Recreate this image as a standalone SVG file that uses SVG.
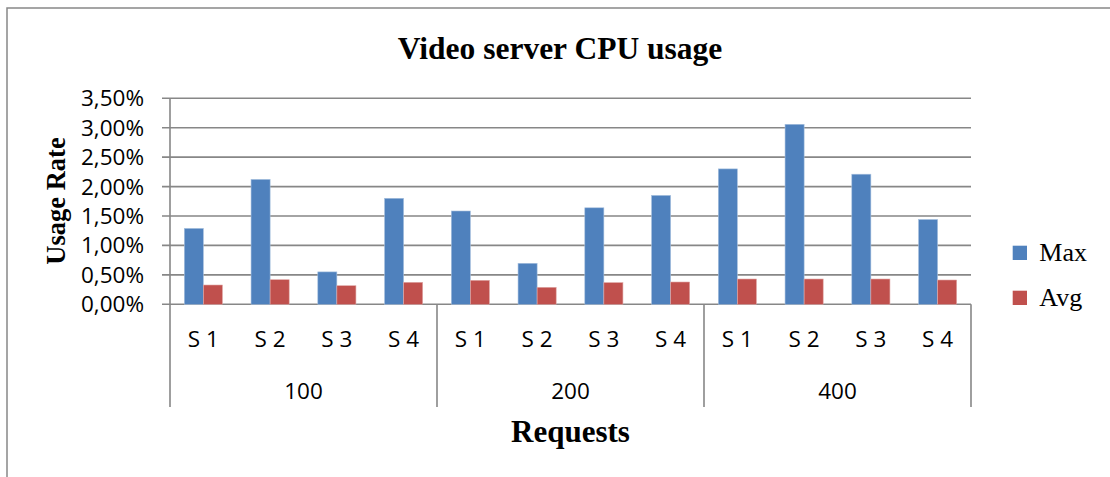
<svg xmlns="http://www.w3.org/2000/svg" width="1110" height="477" viewBox="0 0 1110 477">
<style>
.frame{fill:#fff;stroke:#888;stroke-width:1.5}
.grid{stroke:#878787;stroke-width:1.6;fill:none}
.max{fill:#4F81BD;stroke:#A7C0DE;stroke-width:0.6}
.avg{fill:#C0504D;stroke:#E0A9A7;stroke-width:0.6}
.ylab{font-family:"Open Sans","Liberation Sans",sans-serif;font-size:22.5px;fill:#000;text-anchor:end}
.xlab{font-family:"Open Sans","Liberation Sans",sans-serif;font-size:22.5px;fill:#000;text-anchor:middle}
.title{font-family:"Liberation Serif","Times New Roman",serif;font-weight:bold;fill:#000;text-anchor:middle}
.leg{font-family:"Liberation Serif","Times New Roman",serif;font-size:26px;fill:#000}
</style>
<rect id="chart-frame" class="frame" x="7" y="8" width="1120" height="480"/>
<g id="title"><text class="title" x="560" y="59" font-size="31.5">Video server CPU usage</text></g>
<g id="gridlines">
<path class="grid" d="M162 98.3H971M162 127.7H971M162 157.1H971M162 186.6H971M162 216H971M162 245.4H971M162 274.9H971M162 304.3H971"/>
<path class="grid" d="M170 98.3V407M437 304.3V407M704 304.3V407M971 304.3V407"/>
</g>
<g id="y-labels">
<text class="ylab" x="144" y="106.3">3,50%</text>
<text class="ylab" x="144" y="135.7">3,00%</text>
<text class="ylab" x="144" y="165.1">2,50%</text>
<text class="ylab" x="144" y="194.6">2,00%</text>
<text class="ylab" x="144" y="224">1,50%</text>
<text class="ylab" x="144" y="253.4">1,00%</text>
<text class="ylab" x="144" y="282.9">0,50%</text>
<text class="ylab" x="144" y="312.3">0,00%</text>
</g>
<g id="bars-max">
<rect class="max" x="184.3" y="228.4" width="19.07" height="75.9"/>
<rect class="max" x="251.05" y="179.4" width="19.07" height="124.9"/>
<rect class="max" x="317.8" y="271.9" width="19.07" height="32.4"/>
<rect class="max" x="384.55" y="198.3" width="19.07" height="106"/>
<rect class="max" x="451.3" y="211" width="19.07" height="93.3"/>
<rect class="max" x="518.05" y="263.3" width="19.07" height="41"/>
<rect class="max" x="584.8" y="207.8" width="19.07" height="96.5"/>
<rect class="max" x="651.55" y="195.4" width="19.07" height="108.9"/>
<rect class="max" x="718.3" y="168.9" width="19.07" height="135.4"/>
<rect class="max" x="785.05" y="124.3" width="19.07" height="180"/>
<rect class="max" x="851.8" y="174.2" width="19.07" height="130.1"/>
<rect class="max" x="918.55" y="219.5" width="19.07" height="84.8"/>
</g>
<g id="bars-avg">
<rect class="avg" x="203.37" y="285" width="19.07" height="19.3"/>
<rect class="avg" x="270.12" y="279.7" width="19.07" height="24.6"/>
<rect class="avg" x="336.87" y="285.7" width="19.07" height="18.6"/>
<rect class="avg" x="403.62" y="282.3" width="19.07" height="22"/>
<rect class="avg" x="470.37" y="280.3" width="19.07" height="24"/>
<rect class="avg" x="537.12" y="287.3" width="19.07" height="17"/>
<rect class="avg" x="603.87" y="282.6" width="19.07" height="21.7"/>
<rect class="avg" x="670.62" y="282" width="19.07" height="22.3"/>
<rect class="avg" x="737.37" y="279" width="19.07" height="25.3"/>
<rect class="avg" x="804.12" y="279" width="19.07" height="25.3"/>
<rect class="avg" x="870.87" y="279" width="19.07" height="25.3"/>
<rect class="avg" x="937.62" y="280" width="19.07" height="24.3"/>
</g>
<g id="x-labels">
<text class="xlab" x="203.4" y="347.3">S 1</text>
<text class="xlab" x="270.1" y="347.3">S 2</text>
<text class="xlab" x="336.9" y="347.3">S 3</text>
<text class="xlab" x="403.6" y="347.3">S 4</text>
<text class="xlab" x="470.4" y="347.3">S 1</text>
<text class="xlab" x="537.1" y="347.3">S 2</text>
<text class="xlab" x="603.9" y="347.3">S 3</text>
<text class="xlab" x="670.6" y="347.3">S 4</text>
<text class="xlab" x="737.4" y="347.3">S 1</text>
<text class="xlab" x="804.1" y="347.3">S 2</text>
<text class="xlab" x="870.9" y="347.3">S 3</text>
<text class="xlab" x="937.6" y="347.3">S 4</text>
<text class="xlab" x="303.5" y="399">100</text>
<text class="xlab" x="570.5" y="399">200</text>
<text class="xlab" x="837.5" y="399">400</text>
</g>
<g id="axis-titles">
<text class="title" x="570.5" y="441.7" font-size="31">Requests</text>
<text class="title" transform="translate(65 201) rotate(-90)" x="0" y="0" font-size="26.5">Usage Rate</text>
</g>
<g id="legend">
<rect x="1012.7" y="245.7" width="14.3" height="14.3" fill="#4F81BD"/>
<text class="leg" x="1039.3" y="261">Max</text>
<rect x="1012.7" y="290.7" width="14.3" height="14.3" fill="#C0504D"/>
<text class="leg" x="1039.3" y="306">Avg</text>
</g>
</svg>
